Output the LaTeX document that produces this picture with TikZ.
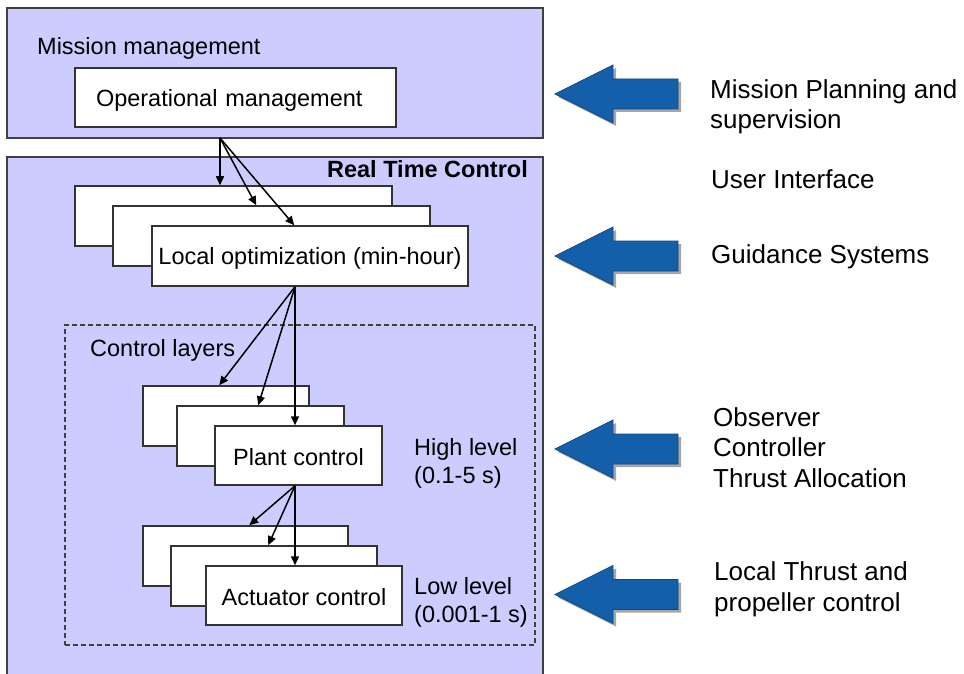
\documentclass[tikz,border=0pt]{standalone}
\usepackage{fontspec}
\setmainfont{Liberation Sans}
\usetikzlibrary{arrows.meta,shadows,calc}

\definecolor{panel}{RGB}{204,204,255}
\definecolor{edge}{RGB}{64,64,64}
\definecolor{arrowblue}{RGB}{20,95,170}

\tikzset{
  bigarrow/.pic={
    \path[fill=arrowblue, draw=arrowblue!75!black, line width=0.8pt,
          drop shadow={shadow xshift=3pt, shadow yshift=-3pt, opacity=0.35, fill=black}]
      (0,0) -- (58,-29) -- (58,-15) -- (123,-15) -- (123,15) -- (58,15) -- (58,29) -- cycle;
  }
}

\begin{document}
\begin{tikzpicture}[x=1pt, y=-1pt,
  panelbox/.style={draw=edge, fill=panel, line width=1.5pt, inner sep=0pt},
  layerbox/.style={draw=black!80, fill=white, line width=1.5pt, inner sep=0pt,
                   font=\fontsize{23.5}{28}\selectfont,
                   text height=20pt, text depth=0pt},
  groupbox/.style={draw=edge, dash pattern=on 5pt off 3pt, line width=1.2pt},
  lbl/.style={font=\fontsize{23.5}{28}\selectfont, inner sep=0pt, align=left},
  side/.style={font=\fontsize{26}{30.5}\selectfont, inner sep=0pt, align=left},
  flow/.style={line width=1.5pt, -{Triangle[length=9pt,width=8pt]}}
]
\fill[white] (0,0) rectangle (964,674);
\clip (0,0) rectangle (964,674);

% panels
\node[panelbox, minimum width=536pt, minimum height=130pt] (mission) at (275,73) {};
\node[panelbox, minimum width=536pt, minimum height=543pt] (rtc) at (275,428.5) {};
\node[groupbox, minimum width=470pt, minimum height=320pt] (layers) at (300,485) {};

\node[lbl, anchor=base west] (missionlbl) at (37,55) {Mission management};
\node[lbl, anchor=base east, font=\fontsize{23.5}{28}\selectfont\bfseries] (rtclbl) at (528,178) {Real Time Control};
\node[lbl, anchor=base west] (layerslbl) at (90,356) {Control layers};

% operational management
\node[layerbox, minimum height=59pt, text width=279pt, inner xsep=21pt, align=left,
      text height=19pt]
  (op) at (235.5,97.5) {Operational management};

% local optimization stack
\node[layerbox, minimum width=317pt, minimum height=60pt] (lo1) at (233.5,216) {};
\node[layerbox, minimum width=317pt, minimum height=60pt] (lo2) at (271.5,236) {};
\node[layerbox, minimum width=316pt, minimum height=60pt, text height=17pt]
  (lo3) at (310,256) {Local optimization (min-hour)};

% plant control stack
\node[layerbox, minimum width=166pt, minimum height=60pt] (pc1) at (226,416) {};
\node[layerbox, minimum width=167pt, minimum height=60pt] (pc2) at (260.5,436) {};
\node[layerbox, minimum width=167pt, minimum height=59pt] (pc3) at (298.5,455.5) {Plant control};

% actuator control stack
\node[layerbox, minimum width=205pt, minimum height=60pt] (ac1) at (245.5,556) {};
\node[layerbox, minimum width=206pt, minimum height=60pt] (ac2) at (274,576) {};
\node[layerbox, minimum width=196pt, minimum height=59pt] (ac3) at (304,595.5) {Actuator control};

% timing labels (anchored at the baseline of the last line)
\node[lbl, anchor=base west] (highlbl) at (414,483) {High level\\(0.1-5 s)};
\node[lbl, anchor=base west] (lowlbl) at (414,622) {Low level\\(0.001-1 s)};

% connectors
\coordinate (opOut) at (220,138);
\draw[flow] (opOut) -- (opOut |- lo1.north);
\draw[flow] (opOut) -- ([xshift=144pt]lo2.north west);
\draw[flow] (opOut) -- ([xshift=143pt]lo3.north west);

\coordinate (loOut) at ([xshift=-15pt]lo3.south);
\draw[flow] (loOut) -- ([xshift=77pt]pc1.north west);
\draw[flow] (loOut) -- ([xshift=82pt]pc2.north west);
\draw[flow] (loOut) -- (loOut |- pc3.north);

\coordinate (pcOut) at ([xshift=-3.5pt]pc3.south);
\draw[flow] (pcOut) -- ([xshift=107pt]ac1.north west);
\draw[flow] (pcOut) -- ([xshift=98pt]ac2.north west);
\draw[flow] (pcOut) -- (pcOut |- ac3.north);

% side arrows and captions
\pic at (555,94) {bigarrow};
\pic at (555,256) {bigarrow};
\pic at (555,449) {bigarrow};
\pic at (555,594.5) {bigarrow};

\node[side, anchor=base west] (cap1) at (710,129) {Mission Planning and\\supervision};
\node[side, anchor=base west] (cap2) at (711,189) {User Interface};
\node[side, anchor=base west] (cap3) at (711,263) {Guidance Systems};
\node[side, anchor=base west] (cap4) at (713,487) {Observer\\Controller\\Thrust Allocation};
\node[side, anchor=base west] (cap5) at (714,611) {Local Thrust and\\propeller control};
\end{tikzpicture}
\end{document}
